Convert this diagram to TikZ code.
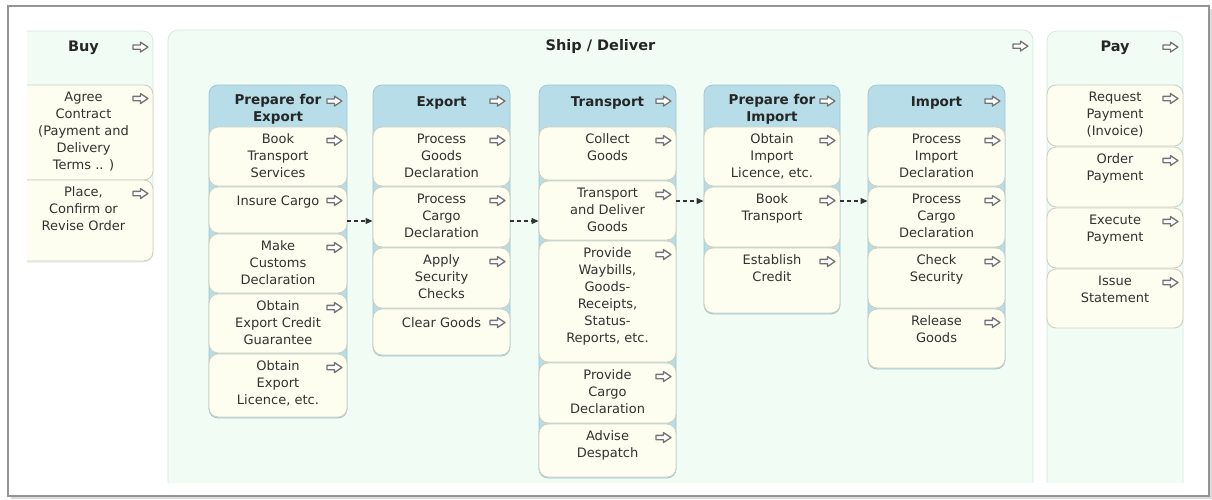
\documentclass[tikz,border=0pt]{standalone}
\usepackage{fontspec}
\setmainfont{DejaVu Sans}
\usetikzlibrary{fit,arrows.meta}
\definecolor{gbg}{RGB}{240,252,244}
\definecolor{gbd}{RGB}{214,234,220}
\definecolor{bbg}{RGB}{182,221,232}
\definecolor{bbd}{RGB}{160,198,210}
\definecolor{cbg}{RGB}{253,253,240}
\definecolor{cbd}{RGB}{208,208,192}
\definecolor{txt}{RGB}{50,50,50}
\tikzset{
  colbox/.style={draw=gbd, fill=gbg, rounded corners=10pt, line width=0.8pt, inner sep=0pt},
  hdrbox/.style={draw=bbd, fill=bbg, rounded corners=9pt, line width=0.8pt, inner sep=0pt},
  itembox/.style={draw=cbd, fill=cbg, rounded corners=9pt, line width=0.9pt, inner sep=0pt},
  lbl/.style={font=\fontsize{13}{17}\selectfont, text=txt, align=center, inner sep=0pt, anchor=north, execute at begin node=\strut},
  hlbl/.style={lbl, font=\fontsize{13.5}{17}\selectfont\bfseries, text=black!85},
  tlbl/.style={lbl, font=\fontsize{14.5}{17}\selectfont\bfseries, text=black!85},
  harrow/.pic={\draw[line width=1.3pt, draw=black!55, fill=white, line join=round] (-7.5,-2.2)--(0,-2.2)--(0,-5)--(7.5,0)--(0,5)--(0,2.2)--(-7.5,2.2)--cycle;},
  flow/.style={draw=black!80, line width=1.1pt, dash pattern=on 4pt off 3pt, -{Triangle[length=7pt,width=6pt]}},
}
% name, x1, x2, y1, y2, text
\newcommand\itm[6]{%
  \node[itembox, fit={(#2,#4) (#3,#5)}] (#1) {};
  \node[lbl] (#1-t) at ([yshift=-7pt]#1.north) {#6};
  \pic at ([xshift=-13pt,yshift=-14pt]#1.north east) {harrow};
}
\newcommand\hcol[6]{%
  \node[hdrbox, fit={(#2,#4) (#3,#5)}] (#1) {};
  \node[hlbl] (#1-t) at ([yshift=-9.5pt]#1.north) {#6};
  \pic at ([xshift=-13pt,yshift=-16.5pt]#1.north east) {harrow};
}
\newcommand\tcol[6]{%
  \node[colbox, fit={(#2,#4) (#3,#5)}] (#1) {};
  \node[tlbl] (#1-t) at ([yshift=-8.5pt]#1.north) {#6};
  \pic at ([xshift=-13pt,yshift=-16.5pt]#1.north east) {harrow};
}
\begin{document}
\begin{tikzpicture}[x=1pt,y=-1pt]
\useasboundingbox (0,0) rectangle (1212,499);
\fill[white] (0,0) rectangle (1212,499);
\fill[black!14] (11,9) rectangle (1212,499);
\fill[white, draw=black!42, line width=1.3pt] (8,6) rectangle (1209,496);
\begin{scope}
\clip (27,0) rectangle (1212,482);
% Buy
\tcol{buy}{14}{153}{31}{262}{Buy}
\itm{agree}{14}{153}{85}{180}{Agree\\Contract\\(Payment and\\Delivery\\Terms .. )}
\itm{place}{14}{153}{180}{261}{Place,\\Confirm or\\Revise Order}
% Ship / Deliver
\tcol{ship}{168}{1033}{30}{540}{Ship / Deliver}
% Prepare for Export
\hcol{pe}{209}{347}{85}{418}{Prepare for\\Export}
\itm{pe1}{209}{347}{127}{186}{Book\\Transport\\Services}
\itm{pe2}{209}{347}{187}{233}{Insure Cargo}
\itm{pe3}{209}{347}{234}{293}{Make\\Customs\\Declaration}
\itm{pe4}{209}{347}{294}{353}{Obtain\\Export Credit\\Guarantee}
\itm{pe5}{209}{347}{354}{417}{Obtain\\Export\\Licence, etc.}
% Export
\hcol{ex}{373}{510}{85}{356}{Export}
\itm{ex1}{373}{510}{127}{186}{Process\\Goods\\Declaration}
\itm{ex2}{373}{510}{187}{247}{Process\\Cargo\\Declaration}
\itm{ex3}{373}{510}{248}{308}{Apply\\Security\\Checks}
\itm{ex4}{373}{510}{309}{355}{Clear Goods}
% Transport
\hcol{tr}{539}{676}{85}{478}{Transport}
\itm{tr1}{539}{676}{127}{180}{Collect\\Goods}
\itm{tr2}{539}{676}{181}{240}{Transport\\and Deliver\\Goods}
\itm{tr3}{539}{676}{241}{362}{Provide\\Waybills,\\Goods-\\Receipts,\\Status-\\Reports, etc.}
\itm{tr4}{539}{676}{363}{423}{Provide\\Cargo\\Declaration}
\itm{tr5}{539}{676}{424}{477}{Advise\\Despatch}
% Prepare for Import
\hcol{pi}{704}{840}{85}{314}{Prepare for\\Import}
\itm{pi1}{704}{840}{127}{186}{Obtain\\Import\\Licence, etc.}
\itm{pi2}{704}{840}{187}{247}{Book\\Transport}
\itm{pi3}{704}{840}{248}{313}{Establish\\Credit}
% Import
\hcol{im}{868}{1005}{85}{369}{Import}
\itm{im1}{868}{1005}{127}{186}{Process\\Import\\Declaration}
\itm{im2}{868}{1005}{187}{247}{Process\\Cargo\\Declaration}
\itm{im3}{868}{1005}{248}{308}{Check\\Security}
\itm{im4}{868}{1005}{309}{368}{Release\\Goods}
% Pay
\tcol{pay}{1047}{1183}{31}{540}{Pay}
\itm{pa1}{1047}{1183}{85}{146}{Request\\Payment\\(Invoice)}
\itm{pa2}{1047}{1183}{147}{207}{Order\\Payment}
\itm{pa3}{1047}{1183}{208}{268}{Execute\\Payment}
\itm{pa4}{1047}{1183}{269}{328}{Issue\\Statement}
\end{scope}
% flows
\coordinate (f1) at ([yshift=-11pt]pe2.east);
\coordinate (f2) at ([yshift=-4pt]ex2.east);
\coordinate (f3) at ([yshift=9.5pt]tr2.east);
\coordinate (f4) at ([yshift=16pt]pi2.east);
\draw[flow] (f1) -- (f1 -| ex2.west);
\draw[flow] (f2) -- (f2 -| tr2.west);
\draw[flow] (f3) -- (f3 -| pi2.west);
\draw[flow] (f4) -- (f4 -| im2.west);
\end{tikzpicture}
\end{document}
